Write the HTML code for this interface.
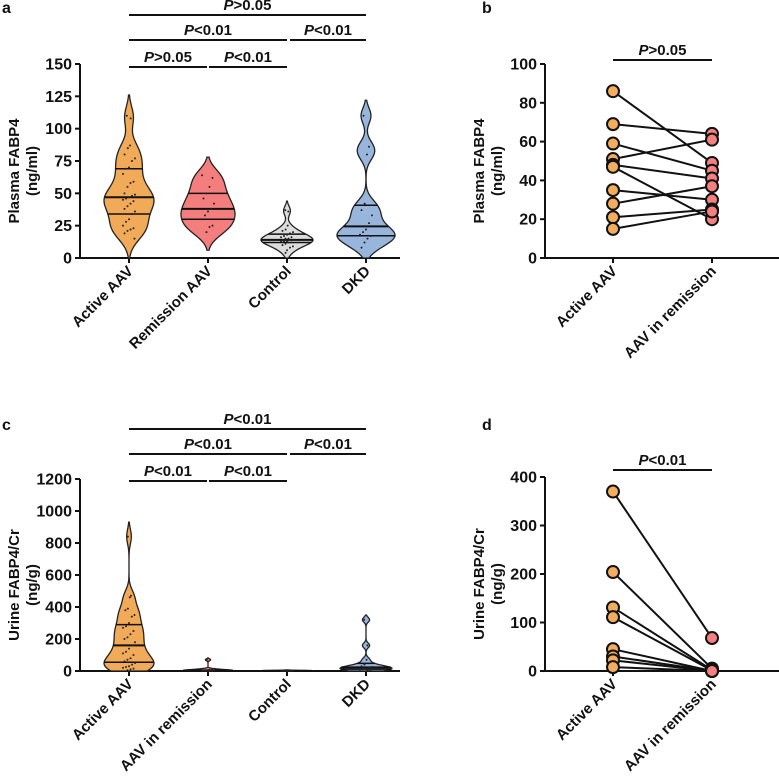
<!DOCTYPE html>
<html><head><meta charset="utf-8"><style>
body{margin:0;background:#fff}
svg{display:block;font-family:"Liberation Sans",Arial,sans-serif;font-weight:bold}
</style></head><body>
<svg id="fig" width="779" height="779" viewBox="0 0 779 779" xmlns="http://www.w3.org/2000/svg"></svg>
<script>
// ---- Panel a data (Plasma FABP4, ng/ml) ----
const catsA = ["Active AAV","Remission AAV","Control","DKD"];
const aActive = [110,108,87,85,80,77,75,70,69,65,59,58,55,50,49,48,47,46,45,44,42,40,38,36,34,30,28,25,23,22,21,19,15];
const aRemission = [64,62,55,50,46,42,38,36,33,30,25,24,20];
const aControl = [37,36,25,22,21,20,19,18,17,16,16,15,15,14,14,14,13,13,13,12,12,11,10,9,8,6,4];
const aDKD = [110,86,80,42,37,33,27,22,20,18,17,15,12,8];
const aTicks = [0,25,50,75,100,125,150];
// ---- Panel b data ----
const catsB = ["Active AAV","AAV in remission"];
const bActive = [86,69,59,51,48,47,35,28,21,15];
const bRemission = [49,64,45,61,41,20,30,37,25,24];
const bTicks = [0,20,40,60,80,100];
// ---- Panel c data (Urine FABP4/Cr, ng/g) ----
const catsC = ["Active AAV","AAV in remission","Control","DKD"];
const cActive = [840,470,460,390,380,350,340,300,280,270,250,230,210,200,180,160,140,120,110,100,80,70,60,50,40,30,25,20,15,10,5];
const cRemission = [70,12,8,5,4,3,2,2,1,1,0,0];
const cControl = [3,2,2,1,1,1,0,0,0];
const cDKD = [320,160,70,40,30,25,20,15,12,10,8,5];
const cTicks = [0,200,400,600,800,1000,1200];
// ---- Panel d data ----
const dActive = [370,204,131,111,45,30,22,8];
const dRemission = [68,5,2,1,0,0,0,0];
const dTicks = [0,100,200,300,400];

const NS="http://www.w3.org/2000/svg";
const svg=document.getElementById('fig');
function mk(tag,attrs,parent,text){const e=document.createElementNS(NS,tag);for(const k in attrs)e.setAttribute(k,attrs[k]);if(text!==undefined)e.textContent=text;(parent||svg).appendChild(e);return e;}

function quant(arr,q){const s=[...arr].sort((a,b)=>a-b);const p=(s.length-1)*q;const lo=Math.floor(p),hi=Math.ceil(p);return s[lo]+(s[hi]-s[lo])*(p-lo);}

function axes(g,x0,x1,y,ticks,ymax,label1,label2,cats,xs){
  const ys=v=>y.y0-(v/ymax)*(y.y0-y.y1);
  const ax=mk('line',{x1:x0,y1:ys(ymax),x2:x0,y2:y.y0,stroke:'#111','stroke-width':2},g);
  
  const bx=mk('line',{x1:x0,y1:y.y0,x2:x1,y2:y.y0,stroke:'#111','stroke-width':2},g);
  
  ticks.forEach(t=>{
    const tl=mk('line',{x1:x0-5,x2:x0,y1:ys(t),y2:ys(t),stroke:'#111','stroke-width':2},g);
    
    const tt=mk('text',{x:x0-8,y:ys(t)+5.5,'text-anchor':'end','font-size':16,fill:'#111'},g,t);
    
  });
  const ymid=(ys(0)+ys(ymax))/2+10;
  const t1=mk('text',{x:0,y:0,'text-anchor':'middle','font-size':15,fill:'#111',transform:`translate(${x0-61},${ymid}) rotate(-90)`},g,label1);
  
  const t2=mk('text',{x:0,y:0,'text-anchor':'middle','font-size':15,fill:'#111',transform:`translate(${x0-43},${ymid}) rotate(-90)`},g,label2);
  
  cats.forEach((c,i)=>{
    const tk=mk('line',{x1:xs[i],x2:xs[i],y1:y.y0,y2:y.y0+5,stroke:'#111','stroke-width':2},g);
    
    const lt=mk('text',{x:0,y:0,'text-anchor':'end','font-size':15,fill:'#111',transform:`translate(${xs[i]+5},${y.y0+14}) rotate(-45)`},g,c);
    
  });
  return ys;
}
function bracket(g,xa,xb,y,txt){
  const l=mk('line',{x1:xa,x2:xb,y1:y,y2:y,stroke:'#111','stroke-width':2},g);
  
  const t=mk('text',{x:(xa+xb)/2,y:y-5,'text-anchor':'middle','font-size':15,fill:'#111'},g);
  
  mk('tspan',{'font-style':'italic'},t,'P');mk('tspan',{},t,txt);
}
function violin(g,data,cx,ys,bw,maxW,fill,ymax){
  const lo=Math.max(0,Math.min(...data)-2*bw),hi=Math.min(ymax,Math.max(...data)+2*bw);
  const n=80,pts=[];let mx=0;
  for(let i=0;i<=n;i++){const v=lo+(hi-lo)*i/n;let d=0;data.forEach(x=>{d+=Math.exp(-0.5*((v-x)/bw)**2);});pts.push([v,d]);if(d>mx)mx=d;}
  let right=pts.map(p=>`${cx+p[1]/mx*maxW},${ys(p[0])}`);
  let left=pts.slice().reverse().map(p=>`${cx-p[1]/mx*maxW},${ys(p[0])}`);
  const pg=mk('polygon',{points:right.concat(left).join(' '),fill:fill,stroke:'#222','stroke-width':1.3},g);
  
  const wAt=v=>{let d=0;data.forEach(x=>{d+=Math.exp(-0.5*((v-x)/bw)**2);});return d/mx*maxW;};
  [0.25,0.5,0.75].forEach(q=>{const v=quant(data,q);const w=wAt(v);
    const ql=mk('line',{x1:cx-w,x2:cx+w,y1:ys(v),y2:ys(v),stroke:'#111','stroke-width':q==0.5?2:1.5},g);
    });
  data.forEach((v,i)=>{const w=wAt(v);const dx=((i*7)%9-4)/4*Math.min(6,w*0.5);
    const d=mk('circle',{cx:cx+dx,cy:ys(v),r:1,fill:'#222'},g);
    });
}
function panelLabel(x,y,t){const e=mk('text',{x:x,y:y,'font-size':16,fill:'#111'},svg,t);}

// Panel a
const ga=mk('g',{});
const xsA=[129,208,287,366];
const ysA=axes(ga,80,400,{y0:258,y1:64},aTicks,150,'Plasma FABP4','(ng/ml)',catsA,xsA);
violin(ga,aActive,xsA[0],ysA,8,25,'#f0aa58',150);
violin(ga,aRemission,xsA[1],ysA,7,27,'#f47e7e',150);
violin(ga,aControl,xsA[2],ysA,3.5,26,'#dcdcdc',150);
violin(ga,aDKD,xsA[3],ysA,6,29,'#98b6dc',150);
bracket(ga,xsA[0],xsA[1]-1,67,'>0.05');bracket(ga,xsA[1]+1,xsA[2],67,'<0.01');
bracket(ga,xsA[0],xsA[2],40,'<0.01');bracket(ga,xsA[2]+3,xsA[3],40,'<0.01');
bracket(ga,xsA[0],xsA[3],15,'>0.05');
panelLabel(2,13,'a');

// Panel b
const gb=mk('g',{});
const xsB=[613,712];
const ysB=axes(gb,545,779,{y0:258,y1:64},bTicks,100,'Plasma FABP4','(ng/ml)',catsB,xsB);
bracket(gb,xsB[0],xsB[1],60,'>0.05');
function pairs(g,A,B,xs,ys){
  A.forEach((v,i)=>{const l=mk('line',{x1:xs[0],y1:ys(v),x2:xs[1],y2:ys(B[i]),stroke:'#111','stroke-width':2},g);});
  A.forEach(v=>{const c=mk('circle',{cx:xs[0],cy:ys(v),r:6,fill:'#f2ad5e',stroke:'#111','stroke-width':2},g);});
  B.forEach(v=>{const c=mk('circle',{cx:xs[1],cy:ys(v),r:6,fill:'#f48080',stroke:'#111','stroke-width':2},g);});
}
pairs(gb,bActive,bRemission,xsB,ysB);
panelLabel(482,13,'b');

// Panel c
const gc=mk('g',{});
const ysC=axes(gc,80,400,{y0:671,y1:479},cTicks,1200,'Urine FABP4/Cr','(ng/g)',catsC,xsA);
violin(gc,cActive,xsA[0],ysC,45,25,'#f0aa58',1200);
violin(gc,cRemission,xsA[1],ysC,6,25,'#f47e7e',1200);
violin(gc,cControl,xsA[2],ysC,2,25,'#dcdcdc',1200);
violin(gc,cDKD,xsA[3],ysC,15,26,'#98b6dc',1200);
bracket(gc,xsA[0],xsA[1]-1,481,'<0.01');bracket(gc,xsA[1]+1,xsA[2],481,'<0.01');
bracket(gc,xsA[0],xsA[2],454,'<0.01');bracket(gc,xsA[2]+3,xsA[3],454,'<0.01');
bracket(gc,xsA[0],xsA[3],429,'<0.01');
panelLabel(2,430,'c');

// Panel d
const gd=mk('g',{});
const ysD=axes(gd,545,779,{y0:671,y1:477},dTicks,400,'Urine FABP4/Cr','(ng/g)',catsB,xsB);
bracket(gd,xsB[0],xsB[1],470,'<0.01');
pairs(gd,dActive,dRemission,xsB,ysD);
panelLabel(482,430,'d');
</script>
</body></html>
